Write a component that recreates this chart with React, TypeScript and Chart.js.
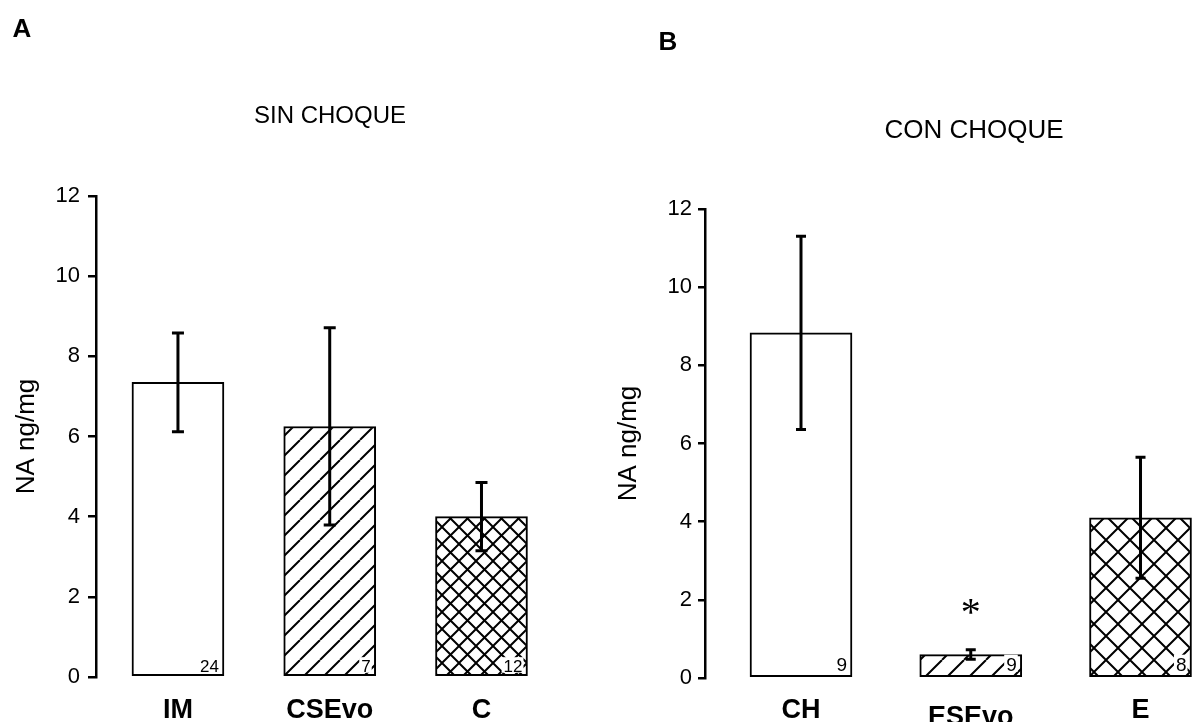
import React, { useEffect, useRef } from 'react';
import { Chart, registerables } from 'chart.js';

Chart.register(...registerables);

// ---------- DATA ----------
const categoriesA = ['IM', 'CSEvo', 'C'];
const valuesA = [7.35, 6.25, 4.0];
const errorsA = [1.23, 2.46, 0.85];
const countsA = ['24', '7', '12'];
const marksA = ['', '', ''];

const categoriesB = ['CH', 'ESEvo', 'E'];
const valuesB = [8.83, 0.6, 4.1];
const errorsB = [2.47, 0.12, 1.55];
const countsB = ['9', '9', '8'];
const marksB = ['', '*', ''];

const yTickValues = [0, 2, 4, 6, 8, 10, 12];
const yTitle = 'NA ng/mg';
const letterA = 'A';
const titleA = 'SIN CHOQUE';
const letterB = 'B';
const titleB = 'CON CHOQUE';

const FONT = '"Liberation Sans", Arial, Helvetica, sans-serif';

type Fill = { period: number; lw: number; cross: boolean } | null;

function makePattern(f: Fill): any {
  if (!f) return '#ffffff';
  const p = f.period;
  const c = document.createElement('canvas');
  c.width = p;
  c.height = p;
  const g = c.getContext('2d')!;
  g.fillStyle = '#ffffff';
  g.fillRect(0, 0, p, p);
  g.strokeStyle = '#000000';
  g.lineWidth = f.lw;
  g.beginPath();
  for (const o of [-p, 0, p]) {
    g.moveTo(o, p);
    g.lineTo(o + p, 0);
  }
  if (f.cross) {
    for (const o of [-p, 0, p]) {
      g.moveTo(o, 0);
      g.lineTo(o + p, p);
    }
  }
  g.stroke();
  return g.createPattern(c, 'repeat');
}

type Panel = {
  left: number;
  width: number;
  categories: string[];
  values: number[];
  errors: number[];
  counts: string[];
  marks: string[];
  fills: Fill[];
  xMin: number;
  xMax: number;
  barThickness: number;
  areaTop: number;
  xAxisHeight: number;
  xLabelPad: number;
  labelLineHeights: number[];
  yAxisWidth: number;
  tickLen: number;
  yTickPad: number;
  yTitlePad: number;
  countFont: number;
  countInset: number;
  countBottom: number;
  capHalf: number;
  letter: string;
  letterX: number;
  letterY: number;
  title: string;
  titleX: number;
  titleY: number;
  titleSize: number;
};

const panelA: Panel = {
  left: 0,
  width: 590,
  categories: categoriesA,
  values: valuesA,
  errors: errorsA,
  counts: countsA,
  marks: marksA,
  fills: [null, { period: 20, lw: 2, cross: false }, { period: 17, lw: 2, cross: true }],
  xMin: -0.54,
  xMax: 2.715,
  barThickness: 92,
  areaTop: 196,
  xAxisHeight: 45,
  xLabelPad: 9,
  labelLineHeights: [1.2, 1.2, 1.2],
  yAxisWidth: 96,
  tickLen: 8,
  yTickPad: 8,
  yTitlePad: 11,
  countFont: 17,
  countInset: 5,
  countBottom: 4,
  capHalf: 6,
  letter: letterA,
  letterX: 22,
  letterY: 30,
  title: titleA,
  titleX: 330,
  titleY: 116,
  titleSize: 24,
};

const panelB: Panel = {
  left: 590,
  width: 605,
  categories: categoriesB,
  values: valuesB,
  errors: errorsB,
  counts: countsB,
  marks: marksB,
  fills: [null, { period: 22, lw: 2, cross: false }, { period: 24, lw: 2, cross: true }],
  xMin: -0.5655,
  xMax: 2.321,
  barThickness: 102,
  areaTop: 209,
  xAxisHeight: 44,
  xLabelPad: 8,
  labelLineHeights: [1.2, 48 / 27, 1.2],
  yAxisWidth: 115,
  tickLen: 7,
  yTickPad: 6,
  yTitlePad: 23,
  countFont: 19,
  countInset: 5,
  countBottom: 6,
  capHalf: 5,
  letter: letterB,
  letterX: 78,
  letterY: 43,
  title: titleB,
  titleX: 384,
  titleY: 131,
  titleSize: 26,
};

function makeAnnotate(p: Panel) {
  return {
    id: 'annotate',
    afterDatasetsDraw(chart: any) {
      const ctx = chart.ctx as CanvasRenderingContext2D;
      const xs = chart.scales.x;
      const ys = chart.scales.y;
      const meta = chart.getDatasetMeta(0);
      ctx.save();
      // counts inside bars
      ctx.font = `${p.countFont}px ${FONT}`;
      ctx.textAlign = 'right';
      ctx.textBaseline = 'alphabetic';
      meta.data.forEach((bar: any, i: number) => {
        const props = bar.getProps(['x', 'width', 'base'], true);
        const right = props.x + props.width / 2 - p.countInset;
        const bottom = props.base - p.countBottom;
        const txt = p.counts[i];
        const w = ctx.measureText(txt).width;
        const h = p.countFont * 0.74;
        ctx.fillStyle = '#ffffff';
        ctx.fillRect(right - w - 2, bottom - h - 2, w + 3, h + 3);
        ctx.fillStyle = '#000000';
        ctx.fillText(txt, right, bottom);
      });
      // error bars
      ctx.strokeStyle = '#000000';
      ctx.lineWidth = 3;
      ctx.lineCap = 'butt';
      p.values.forEach((v, i) => {
        const x = xs.getPixelForValue(i);
        const yt = ys.getPixelForValue(v + p.errors[i]);
        const yb = ys.getPixelForValue(v - p.errors[i]);
        ctx.beginPath();
        ctx.moveTo(x, yt);
        ctx.lineTo(x, yb);
        ctx.moveTo(x - p.capHalf, yt);
        ctx.lineTo(x + p.capHalf, yt);
        ctx.moveTo(x - p.capHalf, yb);
        ctx.lineTo(x + p.capHalf, yb);
        ctx.stroke();
      });
      // significance marks
      ctx.font = `40px "Liberation Serif", "Times New Roman", serif`;
      ctx.textAlign = 'center';
      ctx.textBaseline = 'alphabetic';
      ctx.fillStyle = '#000000';
      p.values.forEach((v, i) => {
        if (!p.marks[i]) return;
        const x = xs.getPixelForValue(i);
        const yt = ys.getPixelForValue(v + p.errors[i]);
        const cy = yt - 46;
        ctx.fillText(p.marks[i], x, cy + 40 * 0.53);
      });
      ctx.restore();
    },
    afterDraw(chart: any) {
      const ctx = chart.ctx as CanvasRenderingContext2D;
      ctx.save();
      ctx.fillStyle = '#000000';
      ctx.textAlign = 'center';
      ctx.textBaseline = 'middle';
      ctx.font = `bold 26px ${FONT}`;
      ctx.fillText(p.letter, p.letterX, p.letterY);
      ctx.font = `${p.titleSize}px ${FONT}`;
      ctx.fillText(p.title, p.titleX, p.titleY);
      ctx.restore();
    },
  };
}

function buildConfig(p: Panel): any {
  const fills = p.fills.map(makePattern);
  return {
    type: 'bar',
    data: {
      datasets: [
        {
          data: p.categories.map((_, i) => ({ x: i, y: p.values[i] })),
          backgroundColor: fills,
          borderColor: '#000000',
          borderWidth: 2,
          borderSkipped: false,
          barThickness: p.barThickness,
        },
      ],
    },
    options: {
      responsive: false,
      animation: false,
      devicePixelRatio: 1,
      events: [],
      layout: { padding: { top: p.areaTop, left: 0, right: 0, bottom: 0 } },
      plugins: {
        legend: { display: false },
        tooltip: { enabled: false },
        title: { display: false },
      },
      scales: {
        x: {
          type: 'linear',
          offset: false,
          min: p.xMin,
          max: p.xMax,
          grid: { display: false },
          border: { display: false },
          afterBuildTicks: (s: any) => {
            s.ticks = p.categories.map((_, i) => ({ value: i }));
          },
          afterFit: (s: any) => {
            s.height = p.xAxisHeight;
          },
          ticks: {
            autoSkip: false,
            maxRotation: 0,
            minRotation: 0,
            padding: p.xLabelPad,
            color: '#000000',
            callback: (v: any) => p.categories[Math.round(Number(v))] ?? '',
            font: (c: any) => ({
              family: FONT,
              size: 27,
              weight: 'bold',
              lineHeight: p.labelLineHeights[c.index] ?? 1.2,
            }),
          },
        },
        y: {
          type: 'linear',
          min: 0,
          max: 12,
          afterBuildTicks: (s: any) => {
            s.ticks = yTickValues.map((v) => ({ value: v }));
          },
          afterFit: (s: any) => {
            s.width = p.yAxisWidth;
          },
          ticks: {
            font: { family: FONT, size: 22 },
            color: '#000000',
            padding: p.yTickPad,
          },
          grid: {
            display: true,
            drawOnChartArea: false,
            drawTicks: true,
            tickLength: p.tickLen,
            color: '#000000',
            lineWidth: 2.5,
          },
          border: { display: true, color: '#000000', width: 2.5 },
          title: {
            display: true,
            text: yTitle,
            color: '#000000',
            font: { family: FONT, size: 26 },
            padding: { top: p.yTitlePad, bottom: 0 },
          },
        },
      },
    },
    plugins: [makeAnnotate(p)],
  };
}

function PanelChart({ panel }: { panel: Panel }) {
  const ref = useRef<HTMLCanvasElement>(null);
  useEffect(() => {
    const canvas = ref.current;
    if (!canvas) return;
    const chart = new Chart(canvas, buildConfig(panel));
    return () => chart.destroy();
  }, [panel]);
  return (
    <canvas
      ref={ref}
      width={panel.width}
      height={722}
      style={{ position: 'absolute', left: panel.left, top: 0, width: panel.width, height: 722 }}
    />
  );
}

export default function App() {
  return (
    <div
      style={{
        position: 'absolute',
        left: 0,
        top: 0,
        width: 1195,
        height: 722,
        background: '#ffffff',
        overflow: 'hidden',
      }}
    >
      <PanelChart panel={panelA} />
      <PanelChart panel={panelB} />
    </div>
  );
}
